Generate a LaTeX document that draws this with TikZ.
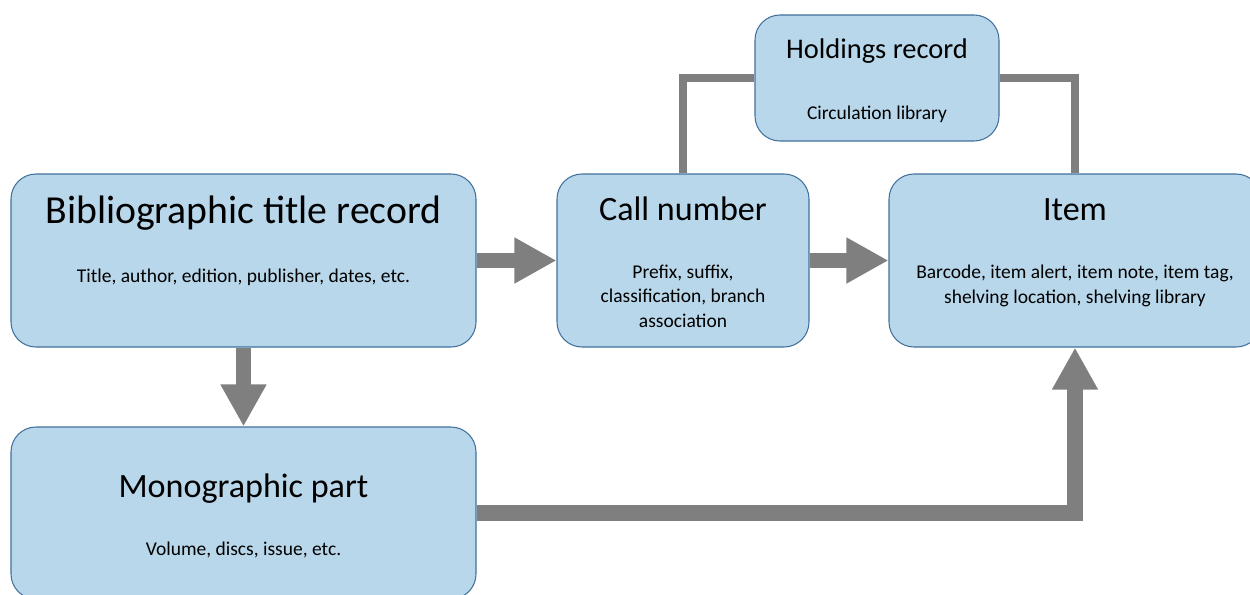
\documentclass[tikz,border=0pt]{standalone}
\usepackage{fontspec}
\setmainfont{Carlito}
\usetikzlibrary{positioning,arrows.meta}
\definecolor{boxfill}{RGB}{185,215,234}
\definecolor{boxline}{RGB}{65,113,156}
\definecolor{arrowgray}{RGB}{127,127,127}
\tikzset{
  recbox/.style={draw=boxline, line width=0.6pt, rounded corners=0.5cm, fill=boxfill},
  bigtitle/.style={anchor=base, inner sep=0pt, font=\fontsize{19.4}{23}\selectfont},
  subtext/.style={anchor=base, inner sep=0pt, align=center, font=\fontsize{11.1}{13.7}\selectfont},
  fatarrow/.style={-{Triangle[length=0.84cm, width=0.86cm]}, line width=0.31cm, draw=arrowgray},
  linkline/.style={line width=0.16cm, draw=arrowgray}
}

\begin{document}
\begin{tikzpicture}
  \useasboundingbox (0,0) rectangle (25,11.88);
  \clip (0,0) rectangle (25,11.88);
  % record boxes
  \node[recbox, minimum width=9.3cm, minimum height=3.46cm] (bib) at (4.87,6.67) {};
  \node[recbox, minimum width=5.04cm, minimum height=3.46cm] (call) at (13.66,6.67) {};
  \node[recbox, minimum width=7.44cm, minimum height=3.46cm] (item) at (21.5,6.67) {};
  \node[recbox, minimum width=4.88cm, minimum height=2.52cm] (hold) at (17.54,10.32) {};
  \node[recbox, minimum width=9.3cm, minimum height=3.44cm] (mono) at (4.87,1.62) {};
  % titles and notes (base = last line)
  \node[bigtitle, font=\fontsize{22.6}{27}\selectfont] (bibtitle) at (4.87,7.42) {Bibliographic title record};
  \node[subtext] (bibnote) at (4.87,6.24) {Title, author, edition, publisher, dates, etc.};
  \node[bigtitle] (calltitle) at (13.66,7.48) {Call number};
  \node[subtext] (callnote) at (13.66,5.34) {Prefix, suffix,\\classification, branch\\association};
  \node[bigtitle] (itemtitle) at (21.5,7.48) {Item};
  \node[subtext] (itemnote) at (21.5,5.82) {Barcode, item alert, item note, item tag,\\shelving location, shelving library};
  \node[bigtitle, font=\fontsize{16.2}{19}\selectfont] (holdtitle) at (17.54,10.72) {Holdings record};
  \node[subtext] (holdnote) at (17.54,9.50) {Circulation library};
  \node[bigtitle] (monotitle) at (4.87,1.94) {Monographic part};
  \node[subtext] (mononote) at (4.87,0.78) {Volume, discs, issue, etc.};
  % connectors
  \draw[fatarrow] (bib) -- (call);
  \draw[fatarrow] (call) -- (item);
  \draw[fatarrow] (bib) -- (mono);
  \draw[fatarrow] (mono.east) -| (item.south);
  \draw[linkline] (hold.west) -| (call.north);
  \draw[linkline] (hold.east) -| (item.north);
\end{tikzpicture}
\end{document}
